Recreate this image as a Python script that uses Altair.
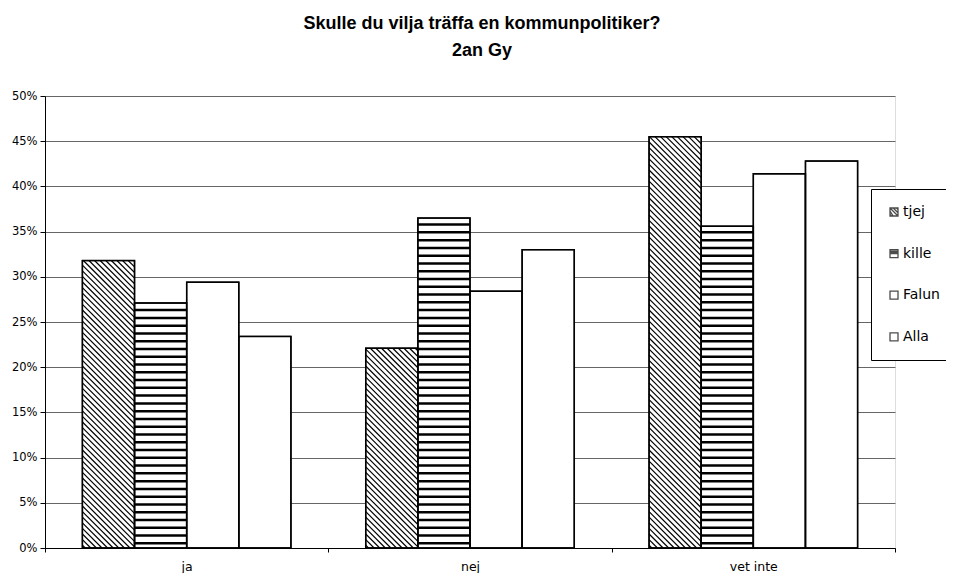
import altair as alt
import pandas as pd

categories = ["ja", "nej", "vet inte"]
series = ["tjej", "kille", "Falun", "Alla"]
tjej = [31.8, 22.1, 45.5]
kille = [27.1, 36.5, 35.6]
falun = [29.4, 28.4, 41.4]
alla = [23.4, 33.0, 42.8]
y_ticks = [0, 5, 10, 15, 20, 25, 30, 35, 40, 45, 50]
values = {"tjej": tjej, "kille": kille, "Falun": falun, "Alla": alla}

W, H = 850, 452
YMAX = 50
BAR_W = 0.184            # bar width in category units
PX_X = W / len(categories)
PX_Y = H / YMAX

rows = []
for si, s in enumerate(series):
    for ci, c in enumerate(categories):
        x0 = ci + 0.5 + (si - 2) * BAR_W
        rows.append(dict(cat=c, series=s, x0=x0, x1=x0 + BAR_W, v=values[s][ci]))
bars = pd.DataFrame(rows)

# horizontal stripes for "kille"
STRIPE = 0.86
stripes = []
for r in rows:
    if r["series"] == "kille":
        yy = STRIPE * 0.6
        while yy < r["v"] - 0.3:
            stripes.append(dict(x0=r["x0"], x1=r["x1"], y=yy))
            yy += STRIPE
stripes = pd.DataFrame(stripes)

# diagonal hatch for "tjej"
hatch = []
STEP = 5.6
for r in rows:
    if r["series"] == "tjej":
        bw = BAR_W * PX_X
        bh = r["v"] * PX_Y
        c = STEP * 0.5
        while c < bw + bh:
            xa = max(0.0, c - bh)
            xb = min(bw, c)
            if xb > xa:
                hatch.append(dict(
                    xa=r["x0"] + xa / PX_X, ya=(c - xa) / PX_Y,
                    xb=r["x0"] + xb / PX_X, yb=(c - xb) / PX_Y))
            c += STEP
hatch = pd.DataFrame(hatch)

FONT = "DejaVu Sans"
TFONT = "Liberation Sans"

xscale = alt.Scale(domain=[0, 3], nice=False, zero=False)
yscale = alt.Scale(domain=[0, YMAX], nice=False)

xaxis = alt.Axis(
    values=[0, 0.5, 1, 1.5, 2, 2.5, 3],
    labelExpr="datum.value == 0.5 ? 'ja' : datum.value == 1.5 ? 'nej' : datum.value == 2.5 ? 'vet inte' : ''",
    tickOpacity={"condition": {"test": "datum.value % 1 != 0", "value": 0}, "value": 1},
    grid=False, title=None, domainColor="black", tickColor="black", tickSize=4,
    labelPadding=8, labelFontSize=12.5, labelFont=FONT, labelColor="black",
)
yaxis = alt.Axis(
    values=y_ticks, labelExpr="datum.value + '%'", grid=True, gridColor="#666",
    gridWidth=1, title=None, domainColor="black", tickColor="black", tickSize=5,
    labelFontSize=11.5, labelFont=FONT, labelColor="black", labelPadding=3,
)

base_bars = alt.Chart(bars).mark_rect(fill="white", stroke="black", strokeWidth=1.3).encode(
    x=alt.X("x0:Q", scale=xscale, axis=xaxis),
    x2="x1:Q",
    y=alt.Y("v:Q", scale=yscale, axis=yaxis),
    y2=alt.datum(0),
)

stripe_layer = alt.Chart(stripes).mark_rule(color="black", strokeWidth=2.5).encode(
    x="x0:Q", x2="x1:Q", y="y:Q"
)

hatch_layer = alt.Chart(hatch).mark_rule(color="black", strokeWidth=1.2).encode(
    x="xa:Q", x2="xb:Q", y="ya:Q", y2="yb:Q"
)

outline = alt.Chart(bars).mark_rect(fillOpacity=0, stroke="black", strokeWidth=1.5).encode(
    x="x0:Q", x2="x1:Q", y="v:Q", y2=alt.datum(0)
)

SQ = "M-1,-1H1V1H-1Z"
shapes = [
    SQ + "M-1,-1L1,1M-1,-0.2L-0.2,1M-0.2,-1L1,0.2M-1,0.6L-0.6,1M0.6,-1L1,-0.6",
    SQ + "M-1,-0.6H1M-1,-0.3H1M-1,0H1",
    SQ,
    SQ,
]

legend_layer = alt.Chart(bars).transform_filter("false").mark_point(
    filled=False, color="black", strokeWidth=1.3
).encode(
    x="x0:Q", y="v:Q",
    shape=alt.Shape("series:N", scale=alt.Scale(domain=series, range=shapes),
                    legend=alt.Legend(title=None, orient="none", legendX=826, legendY=93,
                                      strokeColor="black", fillColor="white", padding=16,
                                      rowPadding=27.6, symbolSize=64, symbolStrokeColor="black",
                                      symbolStrokeWidth=1.3, labelFont=FONT, labelFontSize=14,
                                      labelColor="black", labelOffset=2, cornerRadius=0)),
)

chart = alt.layer(base_bars, stripe_layer, hatch_layer, outline, legend_layer).properties(
    width=W, height=H,
    title=alt.TitleParams(
        ["Skulle du vilja träffa en kommunpolitiker?", "2an Gy"],
        font=TFONT, fontSize=18, fontWeight="bold", color="black", anchor="middle",
        offset=30, lineHeight=27, dx=12,
    ),
    autosize=alt.AutoSizeParams(type="none"),
    padding={"left": 37, "top": 88, "right": 51, "bottom": 25},
).configure_view(strokeWidth=0).configure(background="white")

chart.save("out.html", embed_options={"renderer": "svg", "actions": False})
